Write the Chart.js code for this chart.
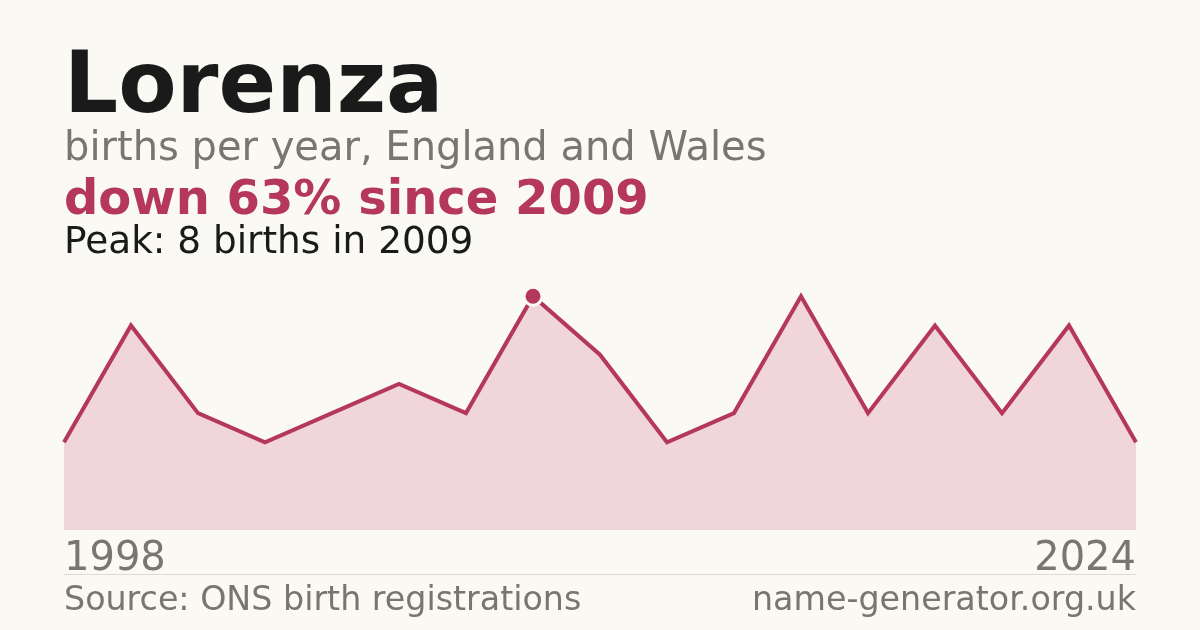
<!DOCTYPE html>
<html>
<head>
<meta charset="utf-8">
<script src="https://cdn.jsdelivr.net/npm/chart.js@4/dist/chart.umd.min.js"></script>
<style>
  html, body { margin: 0; padding: 0; }
  body { width: 1200px; height: 630px; background: #faf9f4; position: relative; overflow: hidden;
         font-family: "DejaVu Sans", sans-serif; }
  .t { position: absolute; left: 64px; white-space: nowrap; }
  #title { top: 40px; font-size: 85px; line-height: 85px; font-weight: bold; color: #1a1a1a; }
  #sub { top: 126px; font-size: 40px; line-height: 40px; color: #7a756d; }
  #change { top: 173px; font-size: 48px; line-height: 48px; font-weight: bold; color: #b5385a; }
  #peak { top: 222px; font-size: 37.4px; line-height: 37px; color: #1a1a1a; }
  .yr { top: 536px; font-size: 40px; line-height: 40px; color: #7a756d; }
  #yrEnd { left: auto; right: 64px; }
  #rule { position: absolute; left: 64px; top: 574px; width: 1072px; height: 1px; background: #dcd9d3; }
  .foot { top: 582px; font-size: 33.3px; line-height: 33px; color: #7a756d; }
  #site { left: auto; right: 64px; }
  #wrap { position: absolute; left: 0; top: 0; width: 1200px; height: 630px; }
</style>
</head>
<body>
<div id="wrap"><canvas id="chart"></canvas></div>
<div class="t" id="title">Lorenza</div>
<div class="t" id="sub">births per year, England and Wales</div>
<div class="t" id="change">down 63% since 2009</div>
<div class="t" id="peak">Peak: 8 births in 2009</div>
<div class="t yr" id="yrStart"></div>
<div class="t yr" id="yrEnd"></div>
<div id="rule"></div>
<div class="t foot" id="source">Source: ONS birth registrations</div>
<div class="t foot" id="site">name-generator.org.uk</div>
<script>
// years with published counts (only first and last are labelled)
const years = [1998, 2000, 2002, 2003, 2004, 2006, 2007, 2009, 2011, 2013, 2014, 2016, 2018, 2019, 2021, 2022, 2024]
const births = [3, 7, 4, 3, 4, 5, 4, 8, 6, 3, 4, 8, 4, 7, 4, 7, 3]
const tickLabels = ['1998', '2024']
const peakYear = 2009

document.getElementById('yrStart').textContent = tickLabels[0]
document.getElementById('yrEnd').textContent = tickLabels[1]

const red = '#b5385a'
const peakIndex = years.indexOf(peakYear)

new Chart(document.getElementById('chart'), {
  type: 'line',
  data: {
    labels: years.map(String),
    datasets: [{
      data: births,
      borderColor: red,
      borderWidth: 4,
      backgroundColor: '#f0d5da',
      fill: 'origin',
      tension: 0,
      clip: false,
      pointRadius: births.map((v, i) => i === peakIndex ? 9 : 0),
      pointBackgroundColor: red,
      pointBorderColor: '#faf9f4',
      pointBorderWidth: 3,
      pointHoverRadius: 0
    }]
  },
  options: {
    responsive: true,
    maintainAspectRatio: false,
    animation: false,
    layout: { padding: { left: 64, right: 64, top: 267, bottom: 100 } },
    plugins: { legend: { display: false }, tooltip: { enabled: false } },
    scales: {
      x: { display: false, offset: false },
      y: { display: false, min: 0, max: 9 }
    }
  }
})
</script>
</body>
</html>
